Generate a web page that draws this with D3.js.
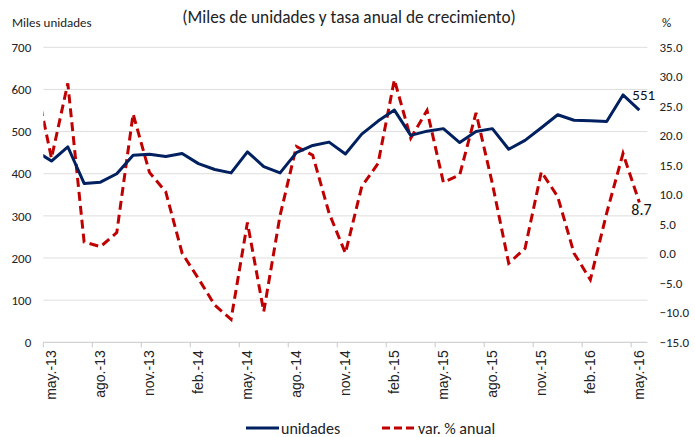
<!DOCTYPE html>
<html>
<head>
<meta charset="utf-8">
<script src="https://cdn.jsdelivr.net/npm/d3@7"></script>
<style>
    body { margin: 0; background: #fff; }
    svg { font-family: Calibri, Carlito, "Liberation Sans", Arial, sans-serif; }
</style>
</head>
<body>
<svg id="chart" width="695" height="437"></svg>
<script>
// meses (abr.-13 queda fuera del area, recortado)
const months = ['abr.-13', 'may.-13', 'jun.-13', 'jul.-13', 'ago.-13', 'sep.-13', 'oct.-13', 'nov.-13', 'dic.-13',
    'ene.-14', 'feb.-14', 'mar.-14', 'abr.-14', 'may.-14', 'jun.-14', 'jul.-14', 'ago.-14', 'sep.-14', 'oct.-14',
    'nov.-14', 'dic.-14', 'ene.-15', 'feb.-15', 'mar.-15', 'abr.-15', 'may.-15', 'jun.-15', 'jul.-15', 'ago.-15',
    'sep.-15', 'oct.-15', 'nov.-15', 'dic.-15', 'ene.-16', 'feb.-16', 'mar.-16', 'abr.-16', 'may.-16'];

const unidades = [455, 430, 464, 377, 380, 400, 444, 446, 441, 448, 424, 410, 402, 452, 417, 402, 450, 467, 475,
    447, 494, 525, 551, 491, 501, 507, 474, 500, 507, 458, 479, 509, 540, 527, 526, 524, 587, 551];

const variacion = [29.5, 16.2, 28.9, 2.0, 1.2, 3.6, 23.7, 13.8, 10.5, 0.1, -4.2, -8.7, -11.1, 5.3, -9.8, 6.5, 18.2,
    16.7, 6.9, 0.1, 11.4, 15.3, 29.5, 19.6, 24.3, 12.1, 13.4, 23.9, 11.9, -1.6, 0.9, 13.9, 9.7, 0.1, -4.4, 6.9, 17.0, 8.7];

const tickLabels = ['may.-13', 'ago.-13', 'nov.-13', 'feb.-14', 'may.-14', 'ago.-14', 'nov.-14', 'feb.-15',
    'may.-15', 'ago.-15', 'nov.-15', 'feb.-16', 'may.-16'];

const leftTicks = [0, 100, 200, 300, 400, 500, 600, 700];
const rightTicks = [-15, -10, -5, 0, 5, 10, 15, 20, 25, 30, 35];

const blue = '#002060';
const red = '#c00000';

let svg = d3.select('#chart');

let plotLeft = 43.3, plotRight = 647.5, plotTop = 47.3, plotBottom = 342.3;
let firstIdx = months.indexOf('may.-13');

// x: indice de mes, los puntos van al centro de cada mes
let x = d3.scaleLinear()
    .domain([0, months.length - firstIdx])
    .range([plotLeft, plotRight]);
let px = (d, i) => x(i - firstIdx + 0.5);

let yLeft = d3.scaleLinear().domain([0, 700]).range([plotBottom, plotTop]);
let yRight = d3.scaleLinear().domain([-15, 35]).range([plotBottom, plotTop]);

svg.append('defs').append('clipPath').attr('id', 'plot')
    .append('rect')
    .attr('x', plotLeft).attr('y', 0)
    .attr('width', plotRight - plotLeft).attr('height', 437);

// titulo
svg.append('text')
    .attr('x', 349).attr('y', 23)
    .attr('text-anchor', 'middle')
    .style('font-size', '17.3px')
    .style('fill', '#222')
    .text('(Miles de unidades y tasa anual de crecimiento)');

svg.append('text')
    .attr('x', 12).attr('y', 27)
    .style('font-size', '13px')
    .style('fill', '#222')
    .text('Miles unidades');

svg.append('text')
    .attr('x', 662).attr('y', 27)
    .style('font-size', '13px')
    .style('fill', '#222')
    .text('%');

// grid
svg.append('g')
    .selectAll('line')
    .data(leftTicks.filter(d => d > 0))
    .enter().append('line')
    .attr('x1', plotLeft).attr('x2', plotRight)
    .attr('y1', d => yLeft(d)).attr('y2', d => yLeft(d))
    .style('stroke', '#dedede')
    .style('stroke-width', 1);

// eje izquierdo
let axisL = svg.append('g')
    .attr('transform', 'translate(' + (plotLeft - 12) + ',0)')
    .call(d3.axisLeft(yLeft).tickValues(leftTicks).tickSize(0).tickPadding(0));
axisL.select('.domain').remove();
axisL.selectAll('text').style('font-size', '13px').style('fill', '#222');
axisL.attr('font-family', null);

// eje derecho
let axisR = svg.append('g')
    .attr('transform', 'translate(' + (plotRight + 12) + ',0)')
    .call(d3.axisRight(yRight).tickValues(rightTicks).tickFormat(d3.format('.1f')).tickSize(0).tickPadding(0));
axisR.select('.domain').remove();
axisR.selectAll('text').style('font-size', '13px').style('fill', '#222');
axisR.attr('font-family', null);

// eje x
svg.append('line')
    .attr('x1', plotLeft).attr('x2', plotRight)
    .attr('y1', plotBottom).attr('y2', plotBottom)
    .style('stroke', '#c8c8c8');

let tickIdx = tickLabels.map(t => months.indexOf(t) - firstIdx);

svg.append('g')
    .selectAll('line')
    .data(tickIdx)
    .enter().append('line')
    .attr('x1', d => x(d)).attr('x2', d => x(d))
    .attr('y1', plotBottom).attr('y2', plotBottom + 5)
    .style('stroke', '#c8c8c8');

svg.append('g')
    .selectAll('text')
    .data(tickLabels)
    .enter().append('text')
    .attr('transform', (d, i) => 'translate(' + x(tickIdx[i] + 0.5) + ',' + (plotBottom + 8) + ') rotate(-90)')
    .attr('dy', '0.35em')
    .attr('text-anchor', 'end')
    .style('font-family', '"Liberation Sans", Arial, sans-serif')
    .style('font-size', '14px')
    .style('fill', '#222')
    .text(d => d);

// series
let plot = svg.append('g').attr('clip-path', 'url(#plot)');

let lineU = d3.line()
    .x((d, i) => px(d, i))
    .y(d => yLeft(d));

let lineV = d3.line()
    .x((d, i) => px(d, i))
    .y(d => yRight(d));

plot.append('path')
    .datum(variacion)
    .attr('d', lineV)
    .style('fill', 'none')
    .style('stroke', red)
    .style('stroke-width', 3)
    .style('stroke-dasharray', '9,5');

plot.append('path')
    .datum(unidades)
    .attr('d', lineU)
    .style('fill', 'none')
    .style('stroke', blue)
    .style('stroke-width', 3)
    .style('stroke-linejoin', 'round');

// etiquetas del ultimo dato
let last = months.length - 1;
svg.append('text')
    .attr('x', px(null, last) - 7).attr('y', yLeft(unidades[last]) - 10)
    .style('font-size', '15px')
    .style('fill', '#111')
    .text(unidades[last]);

svg.append('text')
    .attr('x', px(null, last) - 8).attr('y', yRight(variacion[last]) + 13)
    .style('font-size', '16px')
    .style('fill', '#111')
    .text(d3.format('.1f')(variacion[last]));

// leyenda
let legend = svg.append('g').attr('transform', 'translate(0,428)');
legend.append('line')
    .attr('x1', 246).attr('x2', 279)
    .style('stroke', blue).style('stroke-width', 3);
legend.append('text')
    .attr('x', 281).attr('dy', '0.35em')
    .style('font-size', '16px').style('fill', '#222')
    .text('unidades');
legend.append('line')
    .attr('x1', 382).attr('x2', 416)
    .style('stroke', red).style('stroke-width', 3)
    .style('stroke-dasharray', '8,4');
legend.append('text')
    .attr('x', 418).attr('dy', '0.35em')
    .style('font-size', '16px').style('fill', '#222')
    .text('var. % anual');
</script>
</body>
</html>
